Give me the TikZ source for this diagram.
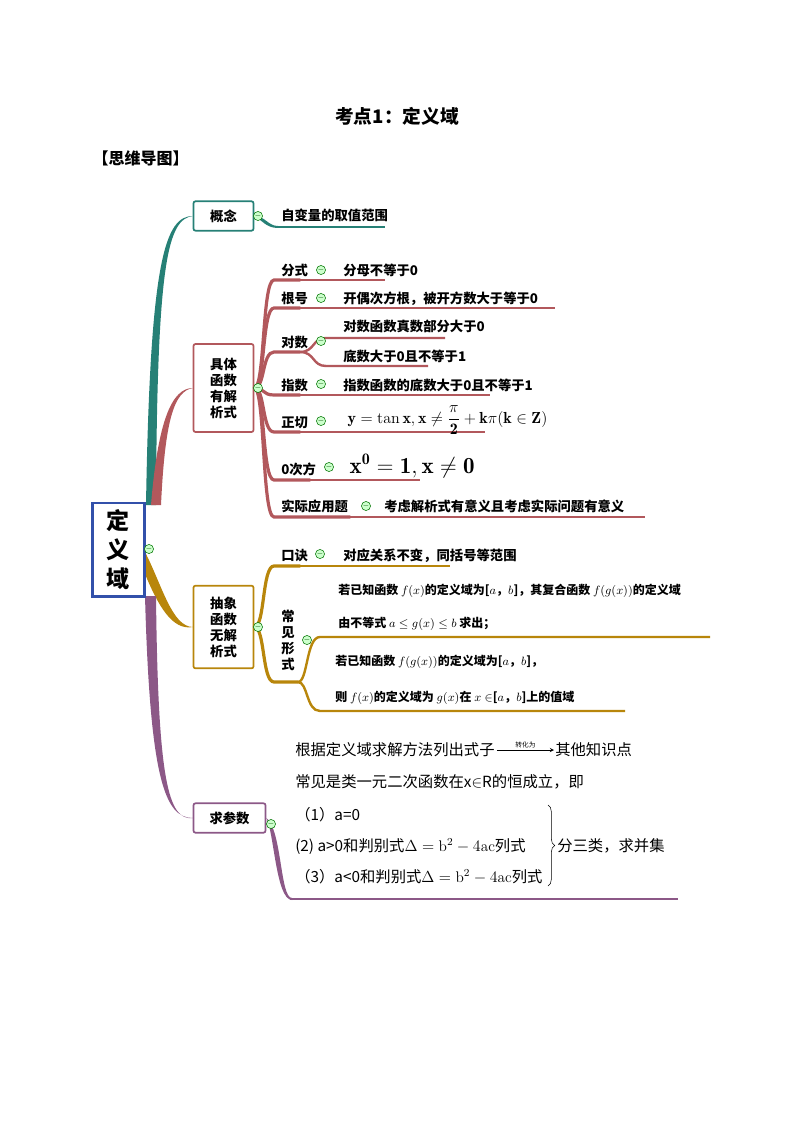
\documentclass[tikz,border=0pt]{standalone}
\usepackage{fontspec}
\usepackage{amsmath}
\newfontfamily\cjk{Noto Sans CJK SC}
\usetikzlibrary{positioning,calc,decorations.pathreplacing}
\begin{document}
\begin{tikzpicture}[x=0.75pt,y=-0.75pt]
  \tikzset{
    cbox/.style={draw, line width=1.3pt, rounded corners=1.5pt, font=\cjk\bfseries, align=center, inner sep=4pt},
    leaf/.style={anchor=base west, font=\cjk\bfseries, inner sep=0pt},
    note/.style={anchor=base west, font=\cjk\fontsize{11.5}{13}\selectfont, inner sep=0pt},
    fold/.style={circle, draw=green!45!black, fill=green!20, inner sep=0pt, minimum size=6.5pt, font=\tiny, text=green!30!black},
    stem/.style={line width=2.4pt, line cap=round},
    twig/.style={line width=1.5pt}
  }
  \definecolor{tealc}{RGB}{38,128,118}
  \definecolor{redc}{RGB}{178,88,92}
  \definecolor{goldc}{RGB}{184,134,11}
  \definecolor{purpc}{RGB}{140,88,135}
  \definecolor{bluec}{RGB}{50,80,170}
  \useasboundingbox (0,0) rectangle (794,1123);

  % title
  \node[font=\cjk\bfseries\fontsize{14}{16}\selectfont] (title) at (397,116) {考点1：定义域};
  \node[font=\cjk\bfseries\large, anchor=west] (head) at (88,158) {【思维导图】};

  % root and branches
  \fill[tealc] (146,505) .. controls (150,260) and (165,216) .. (193,216)
    .. controls (168,219) and (157,260) .. (156,505) -- cycle;
  \fill[redc] (151,505) .. controls (158,420) and (172,388) .. (193,388)
    .. controls (174,391) and (165,420) .. (161,505) -- cycle;
  \fill[goldc] (145,552) .. controls (162,585) and (172,627) .. (193,627)
    .. controls (172,631) and (158,605) .. (145,574) -- cycle;
  \fill[purpc] (145,596) .. controls (150,780) and (165,818) .. (193,818)
    .. controls (168,821) and (158,780) .. (156,596) -- cycle;
  \node[draw=bluec, line width=2pt, fill=white, font=\cjk\bfseries\LARGE, align=center,
        minimum width=39pt, minimum height=70pt] (root) at (118.5,549.5) {定\\义\\域};
  \node[fold] (f0) at (149,549) {$-$};

  % 概念
  \node[cbox, draw=tealc, minimum width=45pt, minimum height=22pt] (gn) at (223.5,216) {概念};
  \node[leaf] (gn1) at (281,221) {自变量的取值范围};
  \fill[tealc] (gn.east) .. controls (265,216) and (268,226) .. (278,226) -- (278,228) .. controls (266,228) and (262,220) .. (gn.east);
  \draw[tealc, twig] (278,227) -- (385,227);
  \node[fold] at (258,216) {$-$};

  % 具体函数有解析式
  \node[cbox, draw=redc, minimum width=45pt, minimum height=66pt] (jt) at (223.5,388) {具体\\函数\\有解\\析式};
  \begin{scope}[redc]
    \foreach \y/\e in {280/300, 308/300, 352/300, 395/300, 432/300, 480/310, 517/350}
      \draw[stem] (jt.east) .. controls (265,388) and (262,\y) .. (274,\y) -- (\e,\y);
    \foreach \y/\s/\e in {280/300/385, 308/300/555, 395/300/490, 432/300/485, 480/310/420, 517/350/645}
      \draw[line width=1.6pt] (\s,\y) .. controls (310,\y) and (314,\y) .. (324,\y) -- (\e,\y);
    \draw[line width=1.8pt] (300,352) .. controls (315,352) and (312,338) .. (326,338) -- (445,338);
    \draw[line width=1.8pt] (300,352) .. controls (315,352) and (312,366) .. (326,366) -- (428,366);
  \end{scope}
  \node[leaf] (fs) at (281,275) {分式};
  \node[leaf] (gh) at (281,303) {根号};
  \node[leaf] (ds) at (281,347) {对数};
  \node[leaf] (zs) at (281,390) {指数};
  \node[leaf] (zq) at (281,427) {正切};
  \node[leaf] (lc) at (281,474) {0次方};
  \node[leaf] (sj) at (281,511) {实际应用题};
  \node[leaf] (fs1) at (343,275) {分母不等于0};
  \node[leaf] (gh1) at (343,303) {开偶次方根，被开方数大于等于0};
  \node[leaf] (ds1) at (343,331) {对数函数真数部分大于0};
  \node[leaf] (ds2) at (343,361) {底数大于0且不等于1};
  \node[leaf] (zs1) at (343,390) {指数函数的底数大于0且不等于1};
  \node[anchor=west, font=\large] (zq1) at (343,420) {$\mathbf{y=\tan x,x\neq\dfrac{\pi}{2}+k\pi(k\in Z)}$};
  \node[anchor=west, font=\LARGE] (lc1) at (345,466) {$\mathbf{x^{0}=1,x\neq 0}$};
  \node[leaf] (sj1) at (384,511) {考虑解析式有意义且考虑实际问题有意义};
  \foreach \p in {(258,388),(321,270),(321,298),(321,341),(321,384),(321,421),(329,467),(366,506)}
    \node[fold] at \p {$-$};

  % 抽象函数无解析式
  \node[cbox, draw=goldc, minimum width=45pt, minimum height=62pt] (cx) at (223.5,627) {抽象\\函数\\无解\\析式};
  \begin{scope}[goldc]
    \draw[stem] (cx.east) .. controls (265,627) and (262,566) .. (274,566) -- (300,566);
    \draw[stem] (cx.east) .. controls (265,627) and (262,682) .. (274,682) -- (298,682);
    \draw[line width=1.6pt] (300,566) .. controls (310,566) and (314,566) .. (326,566) -- (450,566);
    \draw[line width=1.8pt] (298,682) .. controls (308,682) and (306,637) .. (320,637) -- (710,637);
    \draw[line width=1.8pt] (298,682) .. controls (308,682) and (306,711) .. (320,711) -- (625,711);
  \end{scope}
  \node[leaf] (kj) at (281,560) {口诀};
  \node[leaf] (kj1) at (343,560) {对应关系不变，同括号等范围};
  \node[font=\cjk\bfseries, align=center] (cj) at (288,640) {常\\见\\形\\式};
  \node[leaf, font=\cjk\small\bfseries] (cj1) at (338,594) {若已知函数 $f(x)$的定义域为[$a$，$b$]，其复合函数 $f(g(x))$的定义域};
  \node[leaf, font=\cjk\small\bfseries] (cj2) at (338,627) {由不等式 $a\leq g(x)\leq b$ 求出；};
  \node[leaf, font=\cjk\small\bfseries] (cj3) at (335,665) {若已知函数 $f(g(x))$的定义域为[$a$，$b$]，};
  \node[leaf, font=\cjk\small\bfseries] (cj4) at (335,701) {则 $f(x)$的定义域为 $g(x)$在 $x\in$[$a$，$b$]上的值域};
  \foreach \p in {(258,627),(320,554),(307,640)}
    \node[fold] at \p {$-$};

  % 求参数
  \node[cbox, draw=purpc, minimum width=54pt, minimum height=22pt] (qc) at (229.5,818) {求参数};
  \fill[purpc] (qc.east) .. controls (282,830) and (280,898) .. (292,898) -- (292,900)
    .. controls (276,900) and (274,832) .. (qc.east);
  \draw[purpc, twig] (290,899) -- (678,899);
  \node[fold] at (271,824) {$-$};
  \node[note] (qc1) at (295,755) {根据定义域求解方法列出式子};
  \node[note] (qc2) at (295,787) {常见是类一元二次函数在x$\in$R的恒成立，即};
  \node[note] (qc3) at (295,820) {（1）a=0};
  \node[note] (qc4) at (295,851) {(2) a>0和判别式$\Delta=\mathrm{b}^2-4\mathrm{ac}$列式};
  \node[note] (qc5) at (295,882) {（3）a<0和判别式$\Delta=\mathrm{b}^2-4\mathrm{ac}$列式};
  \node[note] (zh2) at (555,755) {其他知识点};
  \draw[->, >=stealth] ($(qc1.base east)+(2,-5)$) -- node[above, font=\cjk\tiny, inner sep=1pt] {转化为} ($(zh2.base west)+(-1,-5)$);
  \coordinate (bt) at (548,805);
  \coordinate (bb) at (548,886);
  \draw[decorate, decoration={brace, amplitude=5pt}] (bt) -- (bb);
  \node[note] (bj) at (557,851) {分三类，求并集};
\end{tikzpicture}
\end{document}
